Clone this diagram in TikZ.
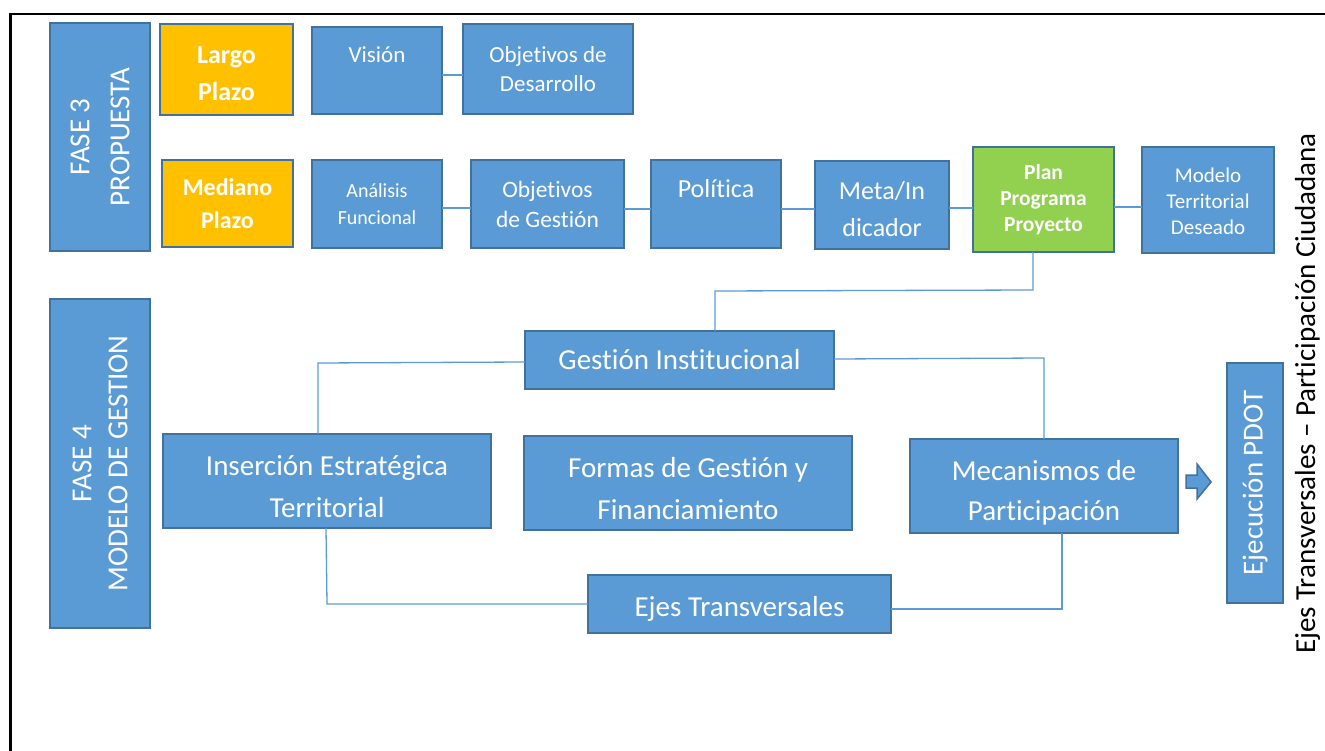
\documentclass[tikz,border=0pt]{standalone}
\usepackage{fontspec}
\setmainfont{Carlito}[Ligatures=NoCommon]
\usetikzlibrary{calc}
\definecolor{blu}{HTML}{5B9BD5}
\definecolor{bdr}{HTML}{41719C}
\definecolor{org}{HTML}{FFC000}
\definecolor{grn}{HTML}{92D050}
\newcommand\hgt[1]{\rule{0pt}{#1}}
\begin{document}
\begin{tikzpicture}[x=1pt,y=-1pt,
  box/.style={draw=bdr, fill=blu, line width=2pt, inner sep=0pt, outer sep=0pt, text=white, align=center},
  conn/.style={draw=blu, line width=1.3pt},
  fs/.style 2 args={font=\fontsize{#1}{#2}\selectfont},
  fsb/.style 2 args={font=\bfseries\fontsize{#1}{#2}\selectfont},
  frame/.style={draw=black, line width=2.5pt}]
\useasboundingbox (0,0) rectangle (1325,751);
% frame
\coordinate (fbl) at (10.5,751);
\coordinate (ftl) at (10.5,14);
\coordinate (ftr) at (1325,14);
\draw[frame] (fbl) -- (ftl) -- (ftr);

% FASE 3
\node[box, rotate=90, minimum width=228pt, minimum height=100pt, fs={29}{40}] (fase3) at (100,137) {FASE 3\\PROPUESTA};
\node[box, fill=org, minimum width=133pt, minimum height=91pt, fsb={26}{37}] (largo) at (226.5,69.5) {\hgt{25pt}Largo\\Plazo};
\node[box, fill=org, minimum width=131pt, minimum height=87pt, fsb={24}{33}] (mediano) at (227.5,203.5) {Mediano\\Plazo};
\node[box, minimum width=130pt, minimum height=87pt, fs={23}{29}] (vision) at (377,70.5) {\smash{\raisebox{7.5pt}{Visión}}};
\node[box, minimum width=170pt, minimum height=90pt, fs={23}{29}] (objdes) at (548,69) {Objetivos de\\Desarrollo};
\node[box, minimum width=130pt, minimum height=88pt, fs={20}{27}] (analisis) at (377,204) {Análisis\\Funcional};
\node[box, minimum width=153pt, minimum height=88pt, fs={23.5}{30}] (objges) at (547.5,204) {Objetivos\\de Gestión};
\node[box, minimum width=130pt, minimum height=88pt, fs={26}{35}] (politica) at (716,204) {\smash{\raisebox{6pt}{Política}}};
\node[box, minimum width=134pt, minimum height=88pt, fs={26}{37}] (meta) at (882,205) {\hgt{26pt}Meta/In\\dicador};
\node[box, fill=grn, minimum width=141pt, minimum height=105pt, fsb={21.5}{26}] (plan) at (1043.5,199.5) {Plan\\Programa\\Proyecto};
\node[box, minimum width=132pt, minimum height=106pt, fs={21}{26}] (modelo) at (1208,200) {\hgt{18pt}Modelo\\Territorial\\Deseado};

% FASE 4
\node[box, rotate=90, minimum width=329pt, minimum height=100pt, fs={29}{36}] (fase4) at (100,463.5) {FASE 4\\MODELO DE GESTION};
\node[box, minimum width=309pt, minimum height=58pt, fs={29}{42}] (gestinst) at (679.5,360) {Gestión Institucional};
\node[box, minimum width=328pt, minimum height=94pt, fs={29}{42}] (insercion) at (327,481) {\hgt{31pt}Inserción Estratégica\\Territorial};
\node[box, minimum width=328pt, minimum height=94pt, fs={29}{42}] (formas) at (688,483) {\hgt{31pt}Formas de Gestión y\\Financiamiento};
\node[box, minimum width=268pt, minimum height=94pt, fs={29}{40}] (mecanismos) at (1044,486) {\hgt{34pt}Mecanismos de\\Participación};
\node[box, minimum width=303pt, minimum height=58pt, fs={29}{42}] (ejes) at (739.5,604) {\hgt{29pt}Ejes Transversales};
\node[box, rotate=90, minimum width=240pt, minimum height=56pt, fs={29}{35}] (ejecucion) at (1255,483) {Ejecución PDOT};

% block arrow
\coordinate (arr) at (1186,482);
\draw[fill=blu, draw=bdr, line width=1.5pt, line join=miter]
  (arr) ++(0,-7) -- ++(11,0) -- ++(0,-11) -- ++(14,18) -- ++(-14,17) -- ++(0,-11) -- ++(-11,0) -- cycle;

% vertical side text
\node[rotate=90, anchor=base, fs={29}{35}, inner sep=0pt] (ejesv) at (1315,393.5) {Ejes Transversales – Participación Ciudadana};

% connectors
\draw[conn] (vision.east |- 0,75) -- (objdes.west |- 0,75);
\draw[conn] (analisis.east |- 0,208) -- (objges.west |- 0,208);
\draw[conn] (objges.east |- 0,209) -- (politica.west |- 0,209);
\draw[conn] (politica.east |- 0,209) -- (meta.west |- 0,209);
\draw[conn] (meta.east |- 0,208) -- (plan.west |- 0,208);
\draw[conn] (plan.east |- 0,207) -- (modelo.west |- 0,207);
\draw[conn] (plan.south -| 1033,0) -- (1033,290) -- (715,291) -- (gestinst.north -| 715,0);
\draw[conn] (gestinst.west |- 0,362) -- (318,363) -- (insercion.north -| 318,0);
\draw[conn] (gestinst.east |- 0,359) -- (1044,358) -- (mecanismos.north);
\draw[conn] (insercion.south -| 326,0) -- (327,604) -- (ejes.west |- 0,604);
\draw[conn] (mecanismos.south -| 1062,0) -- (1062,609) -- (ejes.east |- 0,609);
\end{tikzpicture}
\end{document}
